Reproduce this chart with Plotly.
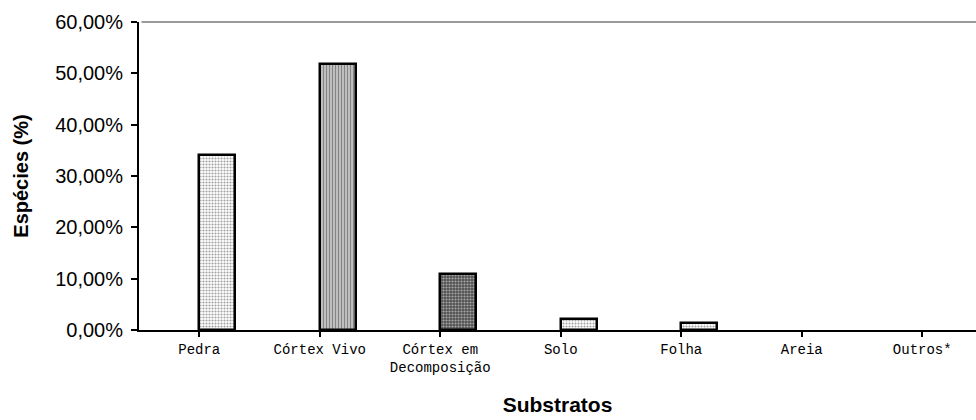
import plotly.graph_objects as go

categories = ["Pedra", "Córtex Vivo", "Córtex em<br>Decomposição", "Solo", "Folha", "Areia", "Outros*"]
values = [0.34, 0.519, 0.109, 0.021, 0.013, 0.0, 0.0]
fill_colors = ["#ffffff", "#c4c4c4", "#505050", "#ffffff", "#ffffff", "#ffffff", "#ffffff"]
pattern_shapes = [".", "|", ".", ".", ".", "", ""]
pattern_fg = ["#9a9a9a", "#9a9a9a", "#ffffff", "#9a9a9a", "#9a9a9a", "#ffffff", "#ffffff"]
y_ticks = [0, 0.1, 0.2, 0.3, 0.4, 0.5, 0.6]

line_widths = [2.5 if v > 0 else 0 for v in values]

fig = go.Figure()
fig.add_trace(go.Bar(
    x=list(range(len(categories))),
    y=values,
    width=0.3,
    offset=0,
    marker=dict(
        color=fill_colors,
        line=dict(color="#000000", width=line_widths),
        pattern=dict(shape=pattern_shapes, fgcolor=pattern_fg,
                     size=3, solidity=0.4, fillmode="overlay"),
    ),
    hoverinfo="skip",
))

fig.update_layout(
    width=976, height=420,
    margin=dict(l=139, r=0, t=22, b=90),
    paper_bgcolor="white", plot_bgcolor="white",
    separators=",.",
    showlegend=False,
    bargap=0,
    xaxis=dict(
        range=[-0.5, 6.446],
        tickmode="array",
        tickvals=list(range(len(categories))),
        ticktext=categories,
        tickson="boundaries",
        ticks="outside", ticklen=5, tickwidth=1.5, tickcolor="#000",
        showline=True, linecolor="#000", linewidth=2,
        showgrid=False, zeroline=False,
        tickfont=dict(family="Liberation Mono", size=14, color="#000"),
        title=dict(text="<b>Substratos</b>", font=dict(family="Arial, Liberation Sans", size=21, color="#000"), standoff=22),
    ),
    yaxis=dict(
        range=[0, 0.6],
        tickmode="array",
        tickvals=y_ticks,
        tickformat=".2%",
        ticks="outside", ticklen=6, tickwidth=1.5, tickcolor="#000",
        ticklabelstandoff=4,
        showline=True, linecolor="#000", linewidth=2,
        showgrid=False, zeroline=False,
        tickfont=dict(family="Arial, Liberation Sans", size=20, color="#000"),
        title=dict(text="<b>Espécies (%)</b>", font=dict(family="Arial, Liberation Sans", size=20, color="#000"), standoff=21),
    ),
    shapes=[dict(type="line", xref="paper", yref="y domain", x0=0.003, x1=1, y0=1, y1=1,
                 line=dict(color="#9a9a9a", width=2))],
)

fig.write_html("out.html")
